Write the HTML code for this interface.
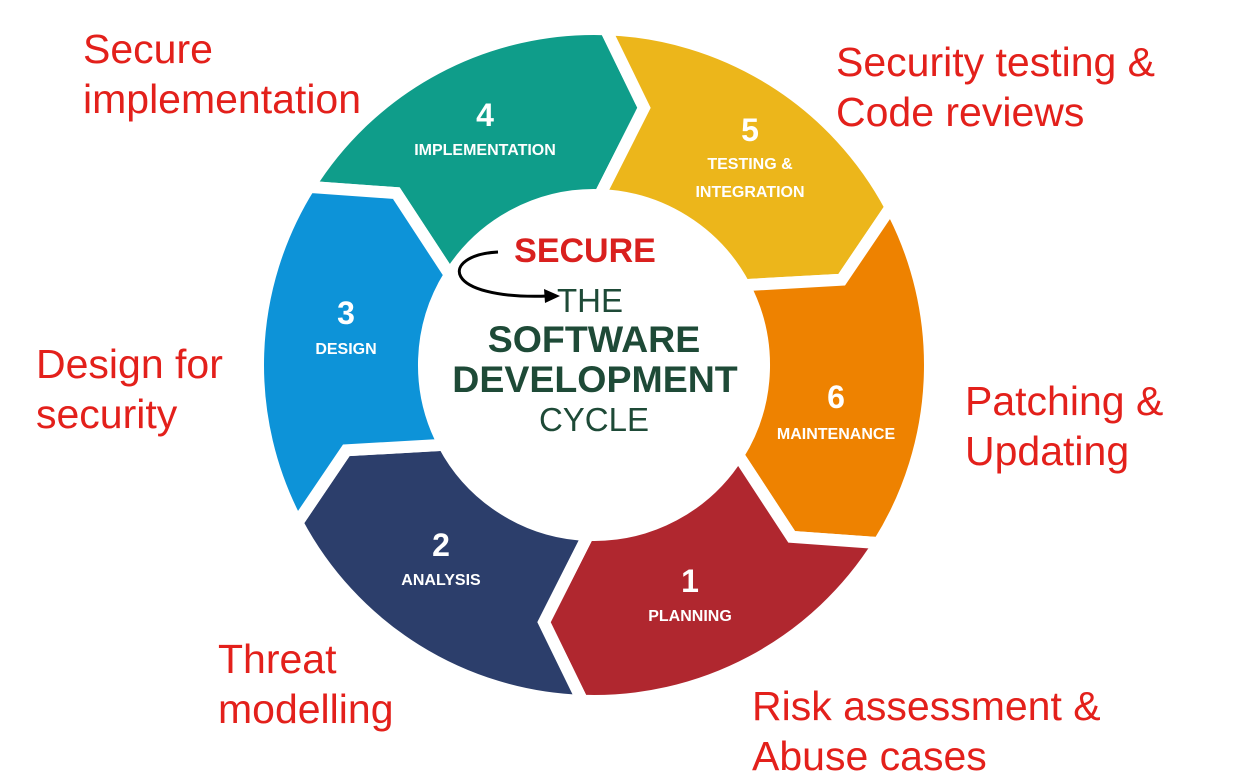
<!DOCTYPE html>
<html><head><meta charset="utf-8"><style>
html,body{margin:0;padding:0;background:#fff;}
body{width:1244px;height:777px;overflow:hidden;position:relative;font-family:"Liberation Sans",sans-serif;}
.lbl{position:absolute;color:#e3201b;font-size:41px;line-height:50px;white-space:nowrap;}
</style></head><body>
<svg id="s" width="1244" height="777" style="position:absolute;left:0;top:0">
<g id="segs"></g>
<g font-family="Liberation Sans, sans-serif" font-weight="bold" fill="#fff" text-anchor="middle">
<text x="485" y="126" font-size="32">4</text><text x="485" y="155" font-size="16">IMPLEMENTATION</text>
<text x="750" y="141" font-size="32">5</text><text x="750" y="169" font-size="16">TESTING &amp;</text><text x="750" y="197" font-size="16">INTEGRATION</text>
<text x="836" y="408" font-size="32">6</text><text x="836" y="439" font-size="16">MAINTENANCE</text>
<text x="690" y="592" font-size="32">1</text><text x="690" y="621" font-size="16">PLANNING</text>
<text x="441" y="556" font-size="32">2</text><text x="441" y="585" font-size="16">ANALYSIS</text>
<text x="346" y="324" font-size="32">3</text><text x="346" y="354" font-size="16">DESIGN</text>
</g>
<g font-family="Liberation Sans, sans-serif" fill="#1e4a37" text-anchor="middle">
<text x="590" y="312" font-size="33">THE</text>
<text x="594" y="352" font-size="37.5" font-weight="bold">SOFTWARE</text>
<text x="595" y="392" font-size="37.5" font-weight="bold">DEVELOPMENT</text>
<text x="594" y="431" font-size="33">CYCLE</text>
</g>
<text x="585" y="262" font-size="34" font-weight="bold" fill="#d9201e" font-family="Liberation Sans, sans-serif" text-anchor="middle">SECURE</text>
<path d="M498,252 C440,255 440,300 548,296" fill="none" stroke="#000" stroke-width="3"/>
<polygon points="560,296 544,289 545,303" fill="#000"/>
</svg>
<div class="lbl" style="left:83px;top:24px">Secure<br>implementation</div>
<div class="lbl" style="left:836px;top:37px">Security testing &amp;<br>Code reviews</div>
<div class="lbl" style="left:36px;top:339px">Design for<br>security</div>
<div class="lbl" style="left:965px;top:376px">Patching &amp;<br>Updating</div>
<div class="lbl" style="left:218px;top:634px">Threat<br>modelling</div>
<div class="lbl" style="left:752px;top:681px">Risk assessment &amp;<br>Abuse cases</div>
<script>
var cx=594,cy=365,ro=336,ri=170,rm=262,d=9;
var segs=[[212,'#0f9d8a'],[272,'#ecb61b'],[332,'#ee8200'],[392,'#b0272f'],[452,'#2c3e6b'],[512,'#0d93d8']];
function p(r,a){a=a*Math.PI/180;return (cx+r*Math.cos(a)).toFixed(1)+','+(cy+r*Math.sin(a)).toFixed(1);}
var h='';
segs.forEach(function(s){var a0=s[0],a1=a0+60;
var path='M'+p(ro,a0)+' A'+ro+','+ro+' 0 0 1 '+p(ro,a1)+' L'+p(rm,a1+d)+' L'+p(ri,a1)+' A'+ri+','+ri+' 0 0 0 '+p(ri,a0)+' L'+p(rm,a0+d)+' Z';
h+='<path d="'+path+'" fill="'+s[1]+'" stroke="#fff" stroke-width="12" stroke-linejoin="miter"/>';});
document.getElementById('segs').innerHTML=h;
</script>
</body></html>
